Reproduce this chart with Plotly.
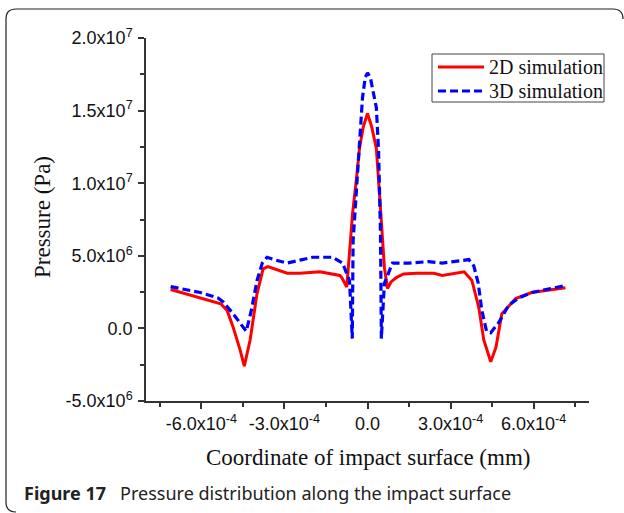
import plotly.graph_objects as go

# ---- data (pressure in Pa, coordinate in mm) ----
x_2d = [-7.11e-4, -6.04e-4, -5.3e-4, -5.07e-4, -4.85e-4, -4.6e-4, -4.45e-4, -4.24e-4,
        -3.99e-4, -3.77e-4, -3.6e-4, -2.9e-4, -2.44e-4, -1.72e-4, -1.0e-4, -9.3e-5,
        -7.5e-5, -6.5e-5, -5.4e-5, -4.0e-5, -2.9e-5, -1.5e-5, 0.0, 1.5e-5, 3.2e-5,
        4.5e-5, 6.1e-5, 7.2e-5, 8.5e-5, 1.04e-4, 1.3e-4, 1.76e-4, 2.4e-4, 2.7e-4,
        3.49e-4, 3.77e-4, 4.02e-4, 4.2e-4, 4.45e-4, 4.64e-4, 4.85e-4, 5.35e-4,
        5.93e-4, 7.15e-4]
p_2d_e6 = [2.68, 2.13, 1.7, 1.24, 0.07, -1.5, -2.6, -0.8,
           2.4, 4.1, 4.25, 3.8, 3.8, 3.9, 3.65, 3.5,
           2.85, 5.2, 7.9, 10.3, 12.4, 13.9, 14.8, 13.9, 12.4,
           8.8, 4.2, 2.75, 3.2, 3.5, 3.75, 3.8, 3.8, 3.65,
           3.9, 3.3, 1.44, -0.8, -2.3, -1.3, 1.0, 2.06,
           2.47, 2.8]

x_3d = [-7.11e-4, -6.04e-4, -5.4e-4, -5.2e-4, -4.85e-4, -4.67e-4, -4.38e-4, -4.2e-4,
        -3.99e-4, -3.8e-4, -3.63e-4, -3.3e-4, -2.9e-4, -2.44e-4, -1.98e-4, -1.26e-4,
        -9.0e-5, -6.5e-5, -5.5e-5, -5.2e-5, -4.0e-5, -2.9e-5, -1.8e-5, -8e-6, 0.0,
        1e-5, 2e-5, 3.2e-5, 4.0e-5, 4.7e-5, 5.0e-5, 6.1e-5, 9.0e-5, 1.5e-4, 2.2e-4,
        2.7e-4, 3.66e-4, 3.84e-4, 4.0e-4, 4.13e-4, 4.3e-4, 4.45e-4, 4.74e-4, 5.1e-4,
        5.46e-4, 5.93e-4, 7.15e-4]
p_3d_e6 = [2.88, 2.47, 2.1, 1.8, 1.0, 0.55, -0.2, 1.2,
           3.3, 4.5, 4.9, 4.7, 4.5, 4.7, 4.9, 4.9,
           4.5, 3.3, -0.7, 6.0, 9.5, 13.1, 15.9, 17.3, 17.6,
           17.3, 16.3, 15.2, 12.2, 6.5, -0.7, 3.1, 4.5, 4.5, 4.6,
           4.5, 4.74, 4.3, 3.1, 1.24, -0.2, -0.3, 0.4, 1.6,
           2.1, 2.47, 2.95]

x_tick_vals = [-6e-4, -3e-4, 0.0, 3e-4, 6e-4]
x_tick_text = ["-6.0x10<sup>-4</sup>", "-3.0x10<sup>-4</sup>", "0.0",
               "3.0x10<sup>-4</sup>", "6.0x10<sup>-4</sup>"]
x_minor_vals = [-7.5e-4, -4.5e-4, -1.5e-4, 1.5e-4, 4.5e-4, 7.5e-4]
y_tick_vals = [-5e6, 0.0, 5e6, 1e7, 1.5e7, 2e7]
y_tick_text = ["-5.0x10<sup>6</sup>", "0.0", "5.0x10<sup>6</sup>", "1.0x10<sup>7</sup>",
               "1.5x10<sup>7</sup>", "2.0x10<sup>7</sup>"]
y_minor_vals = [-2.5e6, 2.5e6, 7.5e6, 1.25e7, 1.75e7]

series_names = ["2D simulation", "3D simulation"]
series_colors = ["#FF0000", "#0000FF"]
series_dash = ["solid", "8px,4px"]
x_title = "Coordinate of impact surface (mm)"
y_title = "Pressure (Pa)"
caption_bold = "Figure 17"
caption_text = "Pressure distribution along the impact surface"

# ---- layout geometry (pixels) ----
W, H = 624, 513
L, R, T, B = 146, 35, 38, 112
PW, PH = W - L - R, H - T - B


def px(xp):
    return (xp - L) / PW


def py(yp):
    return (H - B - yp) / PH


fig = go.Figure()
fig.add_trace(go.Scatter(x=x_2d, y=[v * 1e6 for v in p_2d_e6], mode="lines",
                         name=series_names[0],
                         line=dict(color=series_colors[0], width=3, dash=series_dash[0])))
fig.add_trace(go.Scatter(x=x_3d, y=[v * 1e6 for v in p_3d_e6], mode="lines",
                         name=series_names[1],
                         line=dict(color=series_colors[1], width=3.2, dash=series_dash[1])))

tick_font = dict(family="Liberation Sans, Arial, sans-serif", size=18, color="#111")
axis_common = dict(showgrid=False, zeroline=False, showline=True, linecolor="#333",
                   linewidth=1.5, ticks="outside", ticklen=6, tickwidth=1.5,
                   tickcolor="#333", tickfont=tick_font, mirror=False, automargin=False)

fig.update_xaxes(range=[-8e-4, 8e-4], tickmode="array", tickvals=x_tick_vals,
                 ticktext=x_tick_text,
                 minor=dict(tickmode="array", tickvals=x_minor_vals, ticks="outside",
                            ticklen=4, tickwidth=1.5, tickcolor="#333"),
                 **axis_common)
fig.update_yaxes(range=[-5e6, 2e7], tickmode="array", tickvals=y_tick_vals,
                 ticktext=y_tick_text, ticklabelstandoff=2,
                 minor=dict(tickmode="array", tickvals=y_minor_vals, ticks="outside",
                            ticklen=4, tickwidth=1.5, tickcolor="#333"),
                 **axis_common)

serif = "Liberation Serif, Times New Roman, serif"

# rounded frame (cropped at right / bottom like the source page)
x0, y0, x1, y1, r = px(6), py(9), px(623), py(512), 10
rx, ry = r / PW, r / PH
frame = (f"M {x0},{y1 + ry} L {x0},{y0 - ry} Q {x0},{y0} {x0 + rx},{y0} "
         f"L {x1 - rx},{y0} Q {x1},{y0} {x1},{y0 - ry} "
         f"M {x0},{y1 + ry} Q {x0},{y1} {x0 + rx},{y1}")

shapes = [dict(type="path", xref="paper", yref="paper", path=frame,
               line=dict(color="#222", width=1.2), layer="above"),
          # legend box
          dict(type="rect", xref="paper", yref="paper",
               x0=px(432), x1=px(604), y0=py(102), y1=py(54),
               fillcolor="white", line=dict(color="#444", width=1), layer="above")]

annotations = [
    dict(text=x_title, xref="paper", yref="paper", x=0.5, y=py(457),
         xanchor="center", yanchor="middle", showarrow=False,
         font=dict(family=serif, size=23, color="#111")),
    dict(text=y_title, xref="paper", yref="paper", x=px(42), y=py(217),
         xanchor="center", yanchor="middle", showarrow=False, textangle=-90,
         font=dict(family=serif, size=23, color="#111")),
    dict(text=f"<b>{caption_bold}</b>&nbsp;&nbsp;&nbsp;{caption_text}",
         xref="paper", yref="paper", x=px(22), y=py(493),
         xanchor="left", yanchor="middle", showarrow=False,
         font=dict(family="Noto Sans, sans-serif", size=18, color="#222")),
]

# legend entries (sample line + label)
for i, (name, col, dash) in enumerate(zip(series_names, series_colors, series_dash)):
    row_y = 67 + 24 * i
    shapes.append(dict(type="line", xref="paper", yref="paper",
                       x0=px(438), x1=px(484), y0=py(row_y), y1=py(row_y),
                       line=dict(color=col, width=3.2, dash=dash), layer="above"))
    annotations.append(dict(text=name, xref="paper", yref="paper", x=px(487),
                            y=py(row_y), xanchor="left", yanchor="middle",
                            showarrow=False,
                            font=dict(family=serif, size=20, color="#111")))

fig.update_layout(
    width=W, height=H,
    margin=dict(l=L, r=R, t=T, b=B, autoexpand=False),
    paper_bgcolor="white", plot_bgcolor="white",
    showlegend=False,
    shapes=shapes,
    annotations=annotations,
)

fig.write_html("out.html", config={"displayModeBar": False},
               post_script="document.body.style.margin='0px';")
